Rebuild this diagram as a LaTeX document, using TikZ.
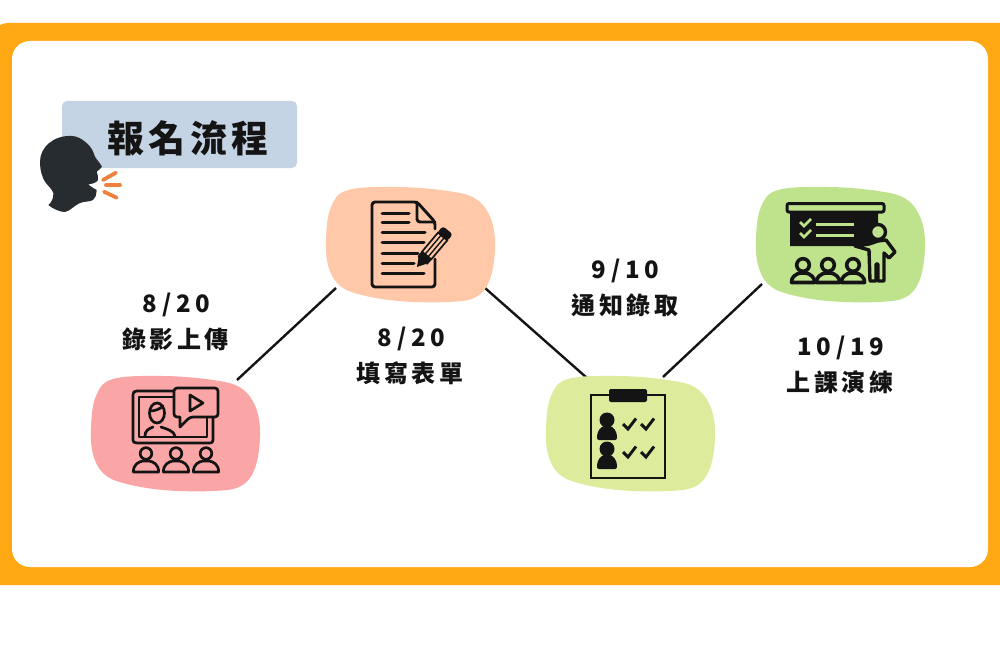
\documentclass[tikz,border=0pt]{standalone}
\usepackage{fontspec}
\newfontfamily\cjkreg[LetterSpace=15]{Noto Sans CJK TC}
\newfontfamily\digitf[LetterSpace=20]{Noto Sans CJK TC}
\newfontfamily\cjktitle[LetterSpace=12]{Noto Sans CJK TC}
\definecolor{frameo}{HTML}{FFA814}
\definecolor{titlebg}{HTML}{C5D4E4}
\definecolor{headc}{HTML}{272C30}
\definecolor{rayc}{HTML}{EE8040}
\definecolor{pinkb}{HTML}{FBA6A6}
\definecolor{peachb}{HTML}{FFC8A8}
\definecolor{limeb}{HTML}{DDEB9D}
\definecolor{greenb}{HTML}{BFE38C}
\definecolor{ink}{HTML}{141414}
\tikzset{
  x=1pt,y=-1pt,
  blobbox/.style={rectangle,minimum width=169pt,minimum height=116pt,inner sep=0pt},
  conn/.style={line width=2.4pt,ink},
  label/.style={font=\cjkreg\fontsize{24}{28}\selectfont\bfseries,text=ink,inner sep=0pt},
  datelabel/.style={font=\digitf\fontsize{24}{28}\selectfont\bfseries,text=ink,inner sep=0pt},
  ray/.style={line width=3.8pt,rayc,line cap=round},
  ic/.style={line width=2.7pt,ink,line cap=round,line join=round},
  pics/blobshape/.style={code={
    \fill[#1] plot[smooth cycle,tension=.62] coordinates {(0,51) (5,20) (22,3) (72,0) (122,4) (150,12) (165,32) (169,60) (164,92) (150,110) (122,115) (72,114) (32,107) (12,97) (2,78)};
  }},
  pics/aud/.style={code={
    \draw[ic] (0,0) circle[radius=5.8];
    \draw[ic] (-12.5,18.5) .. controls (-13,11) and (-7,8) .. (-3,7.5) -- (3,7.5) .. controls (7,8) and (13,11) .. (12.5,18.5) -- cycle;
  }},
  pics/solid/.style={code={
    \fill[ink] (0,0) circle[radius=7.5];
    \fill[ink] (-10,18) .. controls (-10,10) and (-6,7) .. (-3,6) -- (3,6) .. controls (6,7) and (10,10) .. (10,18)
      .. controls (10,19) and (9,20) .. (8,20) -- (-8,20) .. controls (-9,20) and (-10,19) .. (-10,18) -- cycle;
  }},
  pics/chk/.style={code={
    \draw[line width=2.9pt,#1,line join=miter] (0,0) -- (5,5) -- (13,-5.5);
  }},
  pics/audb/.style={code={
    \draw[line width=3.6pt,ink,line join=round] (0,0) circle[radius=6.3];
    \draw[line width=3.6pt,ink,line join=round] (-11.5,17.5) .. controls (-12,12) and (-7,9) .. (-3,8) -- (3,8) .. controls (7,9) and (12,12) .. (11.5,17.5) -- cycle;
  }}
}
\begin{document}
\begin{tikzpicture}
\useasboundingbox (0,0) rectangle (1000,650);
\fill[white] (0,0) rectangle (1000,650);
\fill[frameo] (0,25) .. controls (2,24) and (5,23) .. (8,23) -- (1000,23) -- (1000,585) -- (0,585) -- cycle;
\fill[white,rounded corners=18pt] (12,41) rectangle (988,567);
% title
\node[rectangle,fill=titlebg,rounded corners=5pt,minimum width=235pt,minimum height=67pt,inner sep=0pt] (titlebox) at (179.5,134.5) {};
\node[font=\cjktitle\fontsize{37}{40}\selectfont\bfseries,text=ink,inner sep=0pt] (titletext) at (188,138.5) {報名流程};
% head
\fill[headc] (71.7,136) .. controls (54,135) and (40,147) .. (40,161.7)
  .. controls (40,170) and (42,177) .. (45,181.7)
  .. controls (48,186) and (52,189) .. (53.3,193)
  .. controls (54,198) and (51,203) .. (48.3,205)
  .. controls (53,209) and (60,212) .. (65,212)
  .. controls (70,211) and (75,205) .. (80,203)
  .. controls (85,201) and (90,202) .. (93,200)
  .. controls (96,198) and (96,195) .. (96.7,190)
  .. controls (93,188) and (90,186) .. (88.3,184.3)
  .. controls (92,184) and (96,183) .. (98,180)
  .. controls (98,177) and (98,174) .. (96.7,171.7)
  .. controls (98,170) and (101,169) .. (102,166.7)
  .. controls (100,163) and (97,160) .. (95,156.7)
  .. controls (93,151) and (92,148) .. (86.7,143)
  .. controls (82,139) and (77,136) .. (71.7,136) -- cycle;
\coordinate (r1a) at (103,180); \coordinate (r1b) at (116,172.7);
\coordinate (r2a) at (106,185); \coordinate (r2b) at (120,185);
\coordinate (r3a) at (104,191.7); \coordinate (r3b) at (116.7,197.7);
\draw[ray] (r1a) -- (r1b);
\draw[ray] (r2a) -- (r2b);
\draw[ray] (r3a) -- (r3b);
% anchors of blobs
\node[blobbox] (b1) at (175.5,434) {};
\node[blobbox] (b2) at (410.5,245) {};
\node[blobbox] (b3) at (630.5,434) {};
\node[blobbox] (b4) at (840.5,245) {};
% connectors
\draw[conn] ([shift={(61.5,-54)}]b1.center) -- ([shift={(-74.5,43)}]b2.center);
\draw[conn] ([shift={(74.5,43)}]b2.center) -- ([shift={(-43.5,-56)}]b3.center);
\draw[conn] ([shift={(32.5,-57)}]b3.center) -- ([shift={(-78.5,39)}]b4.center);
% blobs
\pic at (91,376) {blobshape=pinkb};
\pic at (326,187) {blobshape=peachb};
\pic at (546,376) {blobshape=limeb};
\pic at (756,187) {blobshape=greenb};
% labels
\node[datelabel] (l1a) at (176.5,305) {8/20};
\node[label] (l1b) at (175.5,339) {錄影上傳};
\node[datelabel] (l2a) at (411.5,339) {8/20};
\node[label] (l2b) at (410,373) {填寫表單};
\node[datelabel] (l3a) at (625.5,271) {9/10};
\node[label] (l3b) at (625,305) {通知錄取};
\node[datelabel] (l4a) at (841,348) {10/19};
\node[label] (l4b) at (840,382) {上課演練};
% icon 1: video
\draw[ic] (174,391) -- (137,391) .. controls (134,391) and (133,392) .. (133,395) -- (133,440) .. controls (133,442) and (134,443) .. (137,443) -- (210,443) .. controls (212,443) and (213,442) .. (213,440) -- (213,417);
\draw[ic] (174,397) -- (139,397) -- (139,437) -- (207,437) -- (207,417);
\draw[ic,fill=pinkb,rounded corners=3pt] (174,388) -- (218,388) -- (218,417) -- (190,417) [sharp corners] -- (180,427) -- (180,417) [rounded corners=3pt] -- (174,417) -- cycle;
\draw[ic] (190,395) -- (203,403) -- (190,411) -- cycle;
\draw[ic] (157,413) ellipse[x radius=7.5,y radius=10];
\draw[ic] (150,411) .. controls (155,411) and (160,409) .. (163,406);
\draw[ic] (145,436) .. controls (145,431) and (148,429) .. (153,427) (161,427) .. controls (167,429) and (174,431) .. (175,436);
\pic at (146,453.5) {aud};
\pic at (176,453.5) {aud};
\pic at (206,453.5) {aud};
% icon 2: document
\draw[ic,line width=2.9pt,rounded corners=3pt] (435,229) -- (435,222) -- (417,202) -- (372,202) -- (372,287) -- (435,287) -- (435,259);
\draw[ic,line width=2.9pt,rounded corners=3pt] (417,202) -- (417,222) -- (435,222);
\foreach \yy/\xx in {213/409,222/409,232/425,242/424,253/418,263/414,273/424}{
  \draw[line width=3pt,ink,line cap=round] (382,\yy) -- (\xx,\yy);
}
\begin{scope}[shift={(417,267)},rotate=50]
  \fill[ink] (0,0) -- (10,-6) -- (10,6) -- cycle;
  \fill[ink,rounded corners=1pt] (8,-6.5) rectangle (15,6.5);
  \draw[line width=1.7pt,ink,fill=peachb] (15,-6) rectangle (40,6);
  \draw[line width=1.4pt,ink] (15,-2) -- (40,-2) (15,2) -- (40,2);
  \fill[ink,rounded corners=3pt] (39,-6.5) rectangle (48,6.5);
\end{scope}
% icon 3: clipboard
\draw[line width=2.7pt,ink] (591,395) rectangle (665,478);
\fill[ink,rounded corners=2pt] (609,389) rectangle (647,402);
\pic at (607,420) {solid};
\pic at (607,449) {solid};
\pic at (623,424) {chk=ink};
\pic at (641,424) {chk=ink};
\pic at (623,452) {chk=ink};
\pic at (641,452) {chk=ink};
% icon 4: training
\fill[ink] (790,212) -- (878,212) -- (878,240) -- (871,246) -- (790,246) -- cycle;
\draw[line width=3pt,ink,fill=greenb,rounded corners=2pt] (787,203.5) rectangle (884,212);
\draw[line width=3.4pt,ink,fill=greenb,line join=round] (855,246) -- (869,250) -- (870,281) -- (876,281) -- (876,264) -- (878,264) -- (878,281) -- (884,281) -- (884,253) -- (889,258) -- (895,252) -- (886,240) -- (878,241) -- (869,244) -- cycle;
\draw[line width=3.4pt,ink,fill=greenb] (878,232) circle[radius=7.5];
\draw[line width=3pt,greenb] (816,224) -- (854,224) (816,235) -- (854,235);
\draw[line width=2.6pt,greenb] (800,222) -- (804,226) -- (811,219) (800,233) -- (804,237) -- (811,230);
\pic at (853,265) {audb};
\pic at (803,265) {audb};
\pic at (828,265) {audb};
\end{tikzpicture}
\end{document}
